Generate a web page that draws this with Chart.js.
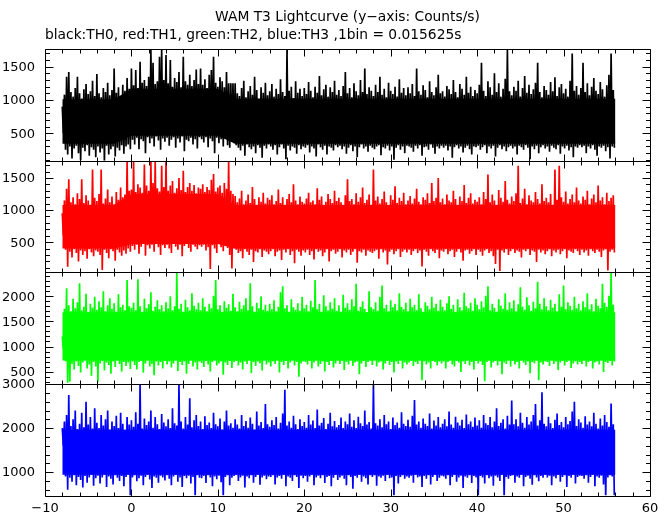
<!DOCTYPE html>
<html>
<head>
<meta charset="utf-8">
<script src="https://cdn.jsdelivr.net/npm/chart.js@4.4.1/dist/chart.umd.min.js"></script>
<style>
  html, body { margin: 0; padding: 0; background: #fff; }
</style>
</head>
<body>
<canvas id="lc" width="672" height="515"></canvas>
<script>
const TITLE = 'WAM T3 Lightcurve (y\u2212axis: Counts/s)';
const SUBTITLE = 'black:TH0, red:TH1, green:TH2, blue:TH3 ,1bin = 0.015625s';
const X_TICKS = [-10, 0, 10, 20, 30, 40, 50, 60];

const T_START = -8;
const T_STEP = 0.25;
// solid middle of each trace, read every 2 s
const CORE_STEP = 2;

// TH0 (black)
const th0Hi = [
  900, 1080, 1350, 1420, 1120, 1050, 1180, 1350, 1100, 1020, 1160, 1240, 1090, 1130, 1290, 1060,
  1390, 1100, 1040, 1180, 1120, 1260, 1070, 1150, 1475, 1110, 1190, 1050, 1230, 1140, 1330, 1170,
  1475, 1220, 1450, 1180, 1575, 1260, 1300, 1210, 1350, 1755, 1560, 1240, 1280, 1650, 1755, 1300,
  1675, 1250, 1600, 1200, 1330, 1270, 1420, 1190, 1650, 1280, 1230, 1380, 1210, 1300, 1460, 1240,
  1475, 1230, 1310, 1180, 1380, 1450, 1650, 1260, 1200, 1340, 1280, 1190, 1420, 1250, 1250, 1250,
  1250, 1100, 1060, 1180, 1290, 1040, 1130, 1210, 1080, 1350, 1150, 1020, 1190, 1110, 1260, 1070,
  1130, 1240, 1050, 1170, 1090, 1310, 1120, 1060, 1755, 1140, 1200, 1030, 1280, 1110, 1170, 1060,
  1180, 1090, 1270, 1140, 1040, 1200, 1110, 1360, 1070, 1160, 1230, 1050, 1190, 1120, 1290, 1080,
  1150, 1060, 1210, 1420, 1100, 1180, 1040, 1250, 1130, 1070, 1300, 1120, 1475, 1090, 1190, 1140,
  1060, 1230, 1120, 1350, 1080, 1170, 1040, 1260, 1140, 1090, 1200, 1050, 1310, 1110, 1180, 1070,
  1190, 1100, 1240, 1060, 1475, 1130, 1080, 1220, 1150, 1040, 1280, 1120, 1070, 1190, 1380, 1100,
  1130, 1050, 1210, 1160, 1090, 1300, 1120, 1040, 1240, 1170, 1080, 1350, 1110, 1200, 1060, 1150,
  1100, 1230, 1560, 1140, 1060, 1280, 1190, 1080, 1400, 1120, 1250, 1050, 1170, 1320, 1755, 1130,
  1070, 1200, 1140, 1290, 1050, 1180, 1360, 1110, 1230, 1090, 1160, 1260, 1560, 1120, 1040, 1210,
  1150, 1080, 1270, 1130, 1340, 1060, 1190, 1240, 1100, 1170, 1050, 1290, 1700, 1140, 1210, 1080,
  1180, 1560, 1120, 1250, 1070, 1200, 1330, 1140, 1090, 1270, 1160, 1050, 1220, 1380, 1700, 1150
];
const th0Lo = [
  500, 250, 180, 300, 120, 270, 310, 200, 90, 280, 230, 320, 160, 290, 250, 140,
  300, 210, 270, 60, 310, 180, 260, 300, 150, 280, 240, 320, 190, 300, 330, 260,
  400, 330, 430, 260, 410, 380, 200, 440, 350, 420, 300, 450, 390, 250, 420, 370,
  430, 310, 400, 440, 280, 420, 360, 450, 230, 400, 380, 430, 330, 410, 270, 440,
  410, 360, 440, 290, 420, 380, 200, 430, 350, 410, 300, 440, 320, 280, 400, 350,
  320, 280, 240, 310, 160, 330, 290, 260, 300, 200, 320, 280, 130, 310, 270, 330,
  300, 250, 320, 180, 290, 330, 270, 110, 310, 240, 300, 280, 190, 320, 260, 300,
  280, 320, 210, 300, 270, 150, 330, 290, 250, 310, 180, 300, 280, 240, 320, 290,
  310, 260, 300, 190, 280, 320, 230, 300, 140, 290, 330, 270, 300, 220, 310, 280,
  260, 300, 320, 170, 290, 270, 310, 240, 300, 100, 280, 320, 250, 300, 200, 310,
  300, 280, 220, 310, 270, 320, 160, 290, 300, 250, 330, 280, 190, 300, 270, 310,
  280, 310, 240, 300, 130, 290, 320, 270, 300, 210, 280, 310, 260, 180, 300, 290,
  310, 250, 290, 320, 200, 300, 270, 310, 150, 280, 320, 260, 300, 230, 290, 310,
  270, 300, 180, 310, 290, 250, 320, 280, 110, 300, 260, 310, 200, 290, 320, 270,
  300, 220, 310, 280, 260, 320, 190, 300, 270, 310, 240, 290, 140, 300, 280, 320,
  290, 310, 200, 300, 270, 320, 250, 160, 300, 280, 310, 230, 290, 120, 300, 280
];
const th0CoreTop = [
  1010, 1010, 1010, 1010, 1170, 1170, 1170, 1170, 1170, 1170, 1020,
  1020, 1020, 1020, 1020, 1020, 1020, 1020, 1020, 1020, 1020, 1020,
  1020, 1020, 1020, 1020, 1020, 1020, 1020, 1020, 1020, 1020, 1020
];
const th0CoreBot = [
  340, 340, 340, 340, 460, 460, 460, 460, 460, 460, 340,
  340, 340, 340, 340, 340, 340, 340, 340, 340, 340, 340,
  340, 340, 340, 340, 340, 340, 340, 340, 340, 340, 340
];

// TH1 (red)
const th1Hi = [
  950, 1150, 1330, 1480, 1120, 1200, 1090, 1260, 1170, 1480, 1110, 1230, 1150, 1080, 1630, 1190,
  1140, 1250, 1630, 1100, 1180, 1320, 1120, 1210, 1090, 1280, 1160, 1350, 1200, 1240, 1755, 1300,
  1320, 1755, 1280, 1400, 1350, 1270, 1710, 1380, 1300, 1755, 1420, 1755, 1340, 1290, 1690, 1360,
  1755, 1300, 1380, 1450, 1270, 1340, 1500, 1310, 1610, 1280, 1360, 1420, 1300, 1390, 1260, 1350,
  1330, 1400, 1280, 1360, 1310, 1470, 1560, 1290, 1350, 1380, 1270, 1420, 1330, 1755, 1300, 1250,
  1220, 1120, 1180, 1300, 1090, 1150, 1240, 1110, 1360, 1170, 1080, 1200, 1130, 1270, 1100, 1190,
  1160, 1230, 1090, 1140, 1320, 1110, 1200, 1080, 1170, 1250, 1120, 1400, 1150, 1090, 1210, 1130,
  1100, 1180, 1270, 1120, 1150, 1090, 1340, 1160, 1210, 1080, 1130, 1250, 1170, 1110, 1300, 1140,
  1190, 1120, 1080, 1230, 1480, 1140, 1170, 1090, 1260, 1130, 1200, 1350, 1110, 1160, 1240, 1080,
  1630, 1150, 1210, 1100, 1170, 1290, 1120, 1080, 1230, 1160, 1370, 1110, 1190, 1140, 1270, 1090,
  1150, 1220, 1100, 1180, 1330, 1130, 1090, 1200, 1160, 1260, 1110, 1420, 1140, 1190, 1500, 1120,
  1180, 1090, 1240, 1150, 1120, 1300, 1170, 1080, 1210, 1140, 1390, 1110, 1190, 1260, 1100, 1160,
  1130, 1200, 1090, 1280, 1170, 1555, 1120, 1240, 1150, 1080, 1310, 1190, 1130, 1450, 1160, 1100,
  1210, 1140, 1260, 1690, 1110, 1180, 1330, 1090, 1230, 1150, 1120, 1280, 1170, 1100, 1400, 1140,
  1190, 1120, 1250, 1080, 1630, 1160, 1690, 1200, 1130, 1290, 1100, 1170, 1240, 1120, 1350, 1150,
  1100, 1210, 1160, 1300, 1090, 1180, 1240, 1120, 1380, 1150, 1200, 1090, 1270, 1140, 1190, 1230
];
const th1Lo = [
  600, 380, 115, 350, 260, 390, 330, 200, 370, 300, 360, 240, 390, 340, 280, 370,
  350, 300, 65, 380, 330, 250, 390, 360, 210, 380, 340, 290, 370, 320, 400, 350,
  440, 380, 460, 320, 430, 470, 290, 450, 400, 460, 350, 470, 420, 300, 450, 410,
  460, 400, 330, 470, 430, 380, 460, 280, 440, 470, 410, 350, 460, 430, 390, 450,
  430, 460, 370, 420, 80, 450, 400, 330, 470, 420, 360, 440, 410, 300, 90, 400,
  380, 330, 360, 250, 390, 350, 300, 380, 190, 360, 340, 390, 270, 370, 350, 310,
  360, 390, 280, 350, 370, 220, 380, 340, 390, 300, 360, 170, 380, 350, 290, 370,
  340, 380, 300, 360, 230, 390, 350, 370, 280, 340, 390, 200, 360, 380, 320, 350,
  390, 260, 370, 340, 380, 300, 350, 390, 180, 360, 340, 380, 290, 370, 350, 330,
  360, 380, 240, 390, 340, 370, 150, 350, 380, 310, 360, 390, 270, 350, 380, 340,
  380, 300, 360, 390, 330, 370, 120, 380, 350, 290, 390, 360, 330, 380, 250, 370,
  350, 390, 310, 360, 380, 270, 350, 390, 340, 210, 370, 380, 320, 360, 390, 300,
  380, 350, 290, 370, 390, 330, 360, 280, 160, 380, 50, 370, 340, 390, 300, 360,
  390, 330, 370, 350, 260, 380, 360, 390, 300, 370, 350, 190, 380, 340, 370, 310,
  360, 390, 280, 370, 340, 380, 310, 360, 390, 250, 370, 350, 330, 390, 360, 300,
  380, 340, 370, 290, 390, 360, 330, 380, 350, 270, 370, 390, 60, 350, 380, 340
];
const th1CoreTop = [
  1080, 1080, 1080, 1080, 1250, 1250, 1250, 1250, 1250, 1250, 1080,
  1080, 1080, 1080, 1080, 1080, 1080, 1080, 1080, 1080, 1080, 1080,
  1080, 1080, 1080, 1080, 1080, 1080, 1080, 1080, 1080, 1080, 1080
];
const th1CoreBot = [
  400, 400, 400, 400, 470, 470, 470, 470, 470, 470, 400,
  400, 400, 400, 400, 400, 400, 400, 400, 400, 400, 400,
  400, 400, 400, 400, 400, 400, 400, 400, 400, 400, 400
];

// TH2 (green)
const th2Hi = [
  1200, 1750, 2160, 1820, 1700, 1950, 1760, 1880, 2260, 1720, 1790, 2050, 1680, 1850, 1770, 1990,
  1730, 1900, 1780, 2100, 1700, 1820, 1960, 1750, 1860, 1690, 2040, 1780, 1830, 1720, 2325, 1800,
  1770, 1870, 1720, 2340, 1800, 1690, 1950, 1760, 1840, 2080, 1710, 1790, 1920, 1740, 1820, 1700,
  1880, 1760, 2000, 1720, 1800, 2478, 1750, 1850, 1690, 1930, 1780, 1720, 2060, 1810, 1740, 1870,
  1720, 1960, 1790, 1700, 1850, 1760, 2010, 2325, 1740, 1820, 1690, 1900, 1770, 1840, 1710, 2050,
  1780, 1700, 1890, 1750, 1820, 1960, 1720, 2260, 1800, 1690, 1870, 1760, 2000, 1730, 1830, 1710,
  1850, 1740, 1920, 1700, 1790, 2080, 2200, 1760, 1820, 1690, 1940, 1780, 1730, 1860, 1710, 1990,
  1760, 1830, 1700, 1910, 1780, 2325, 1740, 1850, 1690, 2020, 1800, 1720, 1880, 1750, 1960, 1710,
  1820, 1690, 2030, 1770, 1860, 1730, 1940, 1800, 2250, 1710, 1790, 1900, 1750, 1680, 2100, 1780,
  1740, 1880, 1710, 1990, 2215, 1760, 1830, 1700, 1920, 1780, 1850, 1720, 2060, 1790, 1740, 1870,
  1700, 1950, 1780, 1830, 1720, 2040, 1760, 1690, 1880, 1810, 1740, 1990, 1770, 1850, 1710, 1930,
  1790, 1720, 1860, 2000, 1750, 1830, 1690, 1940, 1780, 1720, 2070, 1800, 1760, 1870, 1710, 1960,
  1830, 1740, 1900, 1780, 2010, 2200, 1720, 1850, 1770, 1690, 1940, 1810, 1750, 2060, 1730, 1880,
  1760, 1920, 1700, 1840, 2180, 1790, 1730, 1980, 1820, 1710, 1890, 1760, 2290, 1850, 1740, 1960,
  1800, 1720, 1930, 1770, 1850, 1700, 2040, 1790, 2215, 1740, 1880, 1810, 1730, 1990, 1760, 1850,
  1720, 1900, 1780, 2060, 1740, 1840, 1700, 1950, 1810, 1760, 2250, 1870, 1790, 2010, 2478, 1830
];
const th2Lo = [
  950, 700, 280, 300, 650, 540, 700, 610, 480, 680, 720, 560, 640, 420, 690, 600,
  300, 660, 710, 520, 680, 630, 460, 700, 590, 720, 650, 500, 690, 610, 680, 550,
  700, 630, 540, 690, 710, 480, 660, 720, 600, 650, 430, 700, 620, 690, 560, 710,
  640, 700, 580, 660, 720, 510, 690, 630, 700, 460, 650, 720, 600, 680, 540, 700,
  670, 590, 710, 640, 500, 690, 720, 620, 660, 700, 440, 680, 630, 710, 570, 690,
  710, 620, 680, 540, 700, 650, 720, 470, 690, 610, 700, 660, 520, 720, 640, 680,
  600, 700, 650, 720, 480, 690, 630, 710, 560, 680, 720, 620, 690, 400, 660, 700,
  690, 640, 710, 560, 680, 720, 600, 650, 700, 500, 690, 630, 710, 580, 660, 720,
  650, 710, 530, 690, 640, 720, 610, 680, 700, 450, 660, 710, 590, 690, 720, 630,
  720, 600, 680, 700, 540, 660, 710, 630, 690, 480, 700, 650, 720, 560, 680, 640,
  680, 710, 610, 690, 650, 720, 330, 700, 640, 680, 560, 710, 690, 620, 700, 660,
  700, 560, 690, 720, 640, 600, 710, 680, 490, 700, 650, 720, 620, 690, 540, 710,
  660, 700, 630, 310, 690, 720, 580, 680, 710, 620, 700, 450, 680, 650, 720, 600,
  710, 640, 690, 560, 720, 680, 630, 700, 470, 690, 660, 720, 330, 680, 640, 700,
  690, 610, 720, 650, 700, 530, 680, 710, 620, 690, 720, 570, 660, 700, 640, 690,
  650, 720, 600, 690, 710, 560, 680, 700, 640, 720, 490, 690, 670, 710, 620, 700
];
const th2CoreTop = [
  1680, 1680, 1680, 1680, 1680, 1680, 1680, 1680, 1680, 1680, 1680,
  1680, 1680, 1680, 1680, 1680, 1680, 1680, 1680, 1680, 1680, 1680,
  1680, 1680, 1680, 1680, 1680, 1680, 1680, 1680, 1680, 1680, 1680
];
const th2CoreBot = [
  720, 720, 720, 720, 720, 720, 720, 720, 720, 720, 720,
  720, 720, 720, 720, 720, 720, 720, 720, 720, 720, 720,
  720, 720, 720, 720, 720, 720, 720, 720, 720, 720, 720
];

// TH3 (blue)
const th3Hi = [
  2000, 2150, 2300, 2755, 2050, 2200, 2400, 1980, 2100, 2350, 2020, 2600, 2080, 2250, 1990, 2450,
  2120, 2000, 2300, 2060, 2200, 2400, 1970, 2150, 2050, 2280, 2000, 2350, 2100, 1960, 2250, 2080,
  2180, 2030, 2360, 2100, 3000, 1990, 2220, 2070, 2150, 2400, 2010, 2250, 2090, 1980, 2320, 2130,
  2040, 2200, 2000, 2450, 2110, 2060, 3000, 2150, 1990, 2250, 2080, 2680, 2020, 2180, 2300, 2050,
  2150, 1980, 2270, 2070, 2130, 2000, 2350, 2090, 2040, 2220, 1970, 2150, 2400, 2060, 2110, 2010,
  2200, 2080, 1990, 2300, 2050, 2160, 2010, 2240, 2100, 1970, 2380, 2060, 2140, 2000, 2550, 2090,
  2030, 2180, 2070, 2250, 1990, 2120, 2330, 2870, 2060, 2150, 2010, 2280, 2090, 1980, 2200, 2050,
  2140, 2010, 2300, 2080, 2170, 2000, 2420, 2060, 2120, 2230, 1980, 2100, 2350, 2040, 2160, 2020,
  2070, 2240, 2000, 2150, 2090, 2330, 2030, 2180, 2000, 2260, 2110, 2050, 2400, 2080, 2140, 1990,
  3000, 2110, 2060, 2200, 2020, 2300, 2090, 2150, 1980, 2240, 2070, 2130, 2010, 2360, 2100, 2050,
  2190, 2030, 2280, 2640, 2080, 2150, 2010, 2220, 2100, 2050, 2330, 1990, 2170, 2060, 2250, 2020,
  2100, 2200, 2040, 2380, 2080, 2010, 2260, 2130, 2060, 2190, 2000, 2310, 2090, 2150, 2030, 2240,
  2060, 2180, 2010, 2300, 2110, 2070, 2250, 2020, 2150, 2450, 2050, 2120, 2200, 1990, 2280, 2080,
  2630, 2090, 2200, 2040, 2350, 2120, 2010, 2250, 2080, 2150, 2300, 2550, 2060, 2180, 2815, 2100,
  2040, 2260, 2110, 2000, 2190, 2330, 2070, 2140, 2020, 2250, 2090, 2160, 2380, 2600, 2050, 2200,
  2130, 2010, 2270, 2080, 2150, 2040, 2350, 2100, 1990, 2220, 2060, 2300, 2140, 2030, 2560, 2090
];
const th3Lo = [
  1600, 900, 600, 870, 780, 930, 700, 890, 820, 650, 910, 760, 880, 940, 690, 860,
  920, 740, 880, 940, 660, 900, 850, 720, 930, 870, 800, 910, 680, 890, 940, 420,
  880, 930, 790, 860, 920, 700, 890, 940, 830, 640, 900, 870, 760, 920, 880, 810,
  930, 850, 700, 900, 940, 780, 880, 660, 910, 860, 920, 740, 890, 420, 930, 870,
  860, 910, 750, 930, 880, 680, 900, 840, 920, 770, 420, 890, 930, 700, 870, 910,
  940, 800, 880, 920, 650, 900, 860, 930, 760, 890, 940, 710, 880, 920, 840, 900,
  890, 930, 720, 880, 910, 850, 940, 680, 900, 870, 800, 930, 890, 640, 920, 860,
  910, 780, 900, 940, 700, 880, 920, 860, 930, 750, 890, 910, 680, 870, 940, 820,
  880, 920, 850, 700, 930, 890, 620, 910, 870, 940, 780, 900, 860, 720, 930, 890,
  930, 690, 900, 870, 920, 800, 940, 860, 880, 420, 910, 740, 890, 930, 850, 900,
  870, 920, 760, 940, 880, 900, 660, 910, 850, 930, 720, 890, 940, 800, 870, 920,
  900, 850, 930, 700, 890, 940, 780, 880, 920, 640, 900, 870, 930, 750, 910, 880,
  420, 910, 880, 740, 930, 860, 900, 690, 920, 880, 800, 940, 420, 890, 850, 910,
  930, 760, 900, 870, 940, 680, 890, 920, 850, 710, 930, 880, 790, 910, 870, 940,
  880, 920, 700, 900, 860, 940, 780, 890, 930, 660, 910, 870, 940, 740, 890, 920,
  910, 850, 930, 760, 890, 940, 680, 900, 870, 920, 720, 420, 880, 930, 900, 420
];
const th3CoreTop = [
  1960, 1960, 1960, 1960, 1960, 1960, 1960, 1960, 1960, 1960, 1960,
  1960, 1960, 1960, 1960, 1960, 1960, 1960, 1960, 1960, 1960, 1960,
  1960, 1960, 1960, 1960, 1960, 1960, 1960, 1960, 1960, 1960, 1960
];
const th3CoreBot = [
  940, 940, 940, 940, 940, 940, 940, 940, 940, 940, 940,
  940, 940, 940, 940, 940, 940, 940, 940, 940, 940, 940,
  940, 940, 940, 940, 940, 940, 940, 940, 940, 940, 940
];

// axis ranges per panel, top to bottom
const Y_MIN = [86, 30, 255, 468];
const Y_MAX = [1765, 1768, 2478, 3005];
const Y_MAJOR = [500, 500, 500, 1000];
const Y_MINOR = [100, 100, 100, 200];
const COLORS = ['#000000', '#ff0000', '#00ff00', '#0000ff'];

const series = [
  [th0Hi, th0Lo, th0CoreTop, th0CoreBot],
  [th1Hi, th1Lo, th1CoreTop, th1CoreBot],
  [th2Hi, th2Lo, th2CoreTop, th2CoreBot],
  [th3Hi, th3Lo, th3CoreTop, th3CoreBot]
];

const FONT = { family: 'DejaVu Sans', size: 13, weight: 'normal' };
const TITLE_FONT = { family: 'DejaVu Sans', size: 13.8, weight: 'normal' };

// each bin goes up to its peak then down to its dip, like the binned trace
function trace(hi, lo) {
  const pts = [];
  hi.forEach((v, i) => {
    const t = T_START + i * T_STEP;
    pts.push({ x: t, y: v }, { x: t + T_STEP / 2, y: lo[i] });
  });
  return pts;
}

function band(vals) {
  return vals.map((v, i) => ({ x: T_START + i * CORE_STEP, y: v }));
}

const datasets = [];
series.forEach(([hi, lo, top, bot], p) => {
  const yAxisID = 'y' + p;
  datasets.push({
    data: band(top), yAxisID, borderWidth: 0, pointRadius: 0,
    backgroundColor: COLORS[p], fill: '+1'
  });
  datasets.push({ data: band(bot), yAxisID, borderWidth: 0, pointRadius: 0, fill: false });
  datasets.push({
    data: trace(hi, lo), yAxisID, borderColor: COLORS[p], borderWidth: 1.7,
    pointRadius: 0, fill: false
  });
});

const scales = {
  x: {
    type: 'linear', position: 'bottom', min: -10, max: 60,
    grid: { display: false, drawTicks: false }, border: { display: false },
    ticks: {
      color: '#000', font: FONT, padding: 5, maxRotation: 0,
      callback: v => (v < 0 ? '\u2212' + Math.abs(v) : String(v))
    },
    afterBuildTicks: s => { s.ticks = X_TICKS.map(v => ({ value: v })); },
    afterFit: s => { s.height = 19.5; }
  }
};
Y_MIN.forEach((mn, p) => {
  scales['y' + p] = {
    type: 'linear', position: 'left', stack: 'lc', stackWeight: 1, weight: 10 - p,
    min: mn, max: Y_MAX[p], offset: false,
    grid: { display: false, drawTicks: false }, border: { display: false },
    ticks: { display: false },
    afterFit: s => { s.width = 45; }
  };
});

// clip each series to its own panel
const panelClip = {
  id: 'panelClip',
  beforeDatasetDraw(chart, args) {
    const s = chart.scales[args.meta.yAxisID];
    const a = chart.chartArea;
    chart.ctx.save();
    chart.ctx.beginPath();
    chart.ctx.rect(a.left, s.top, a.right - a.left, s.bottom - s.top);
    chart.ctx.clip();
  },
  afterDatasetDraw(chart) {
    chart.ctx.restore();
  }
};

// frames with inward ticks on all four sides, plus the y labels
const panelFrames = {
  id: 'panelFrames',
  afterDatasetsDraw(chart) {
    const ctx = chart.ctx;
    const a = chart.chartArea;
    const xs = chart.scales.x;
    const left = Math.round(a.left) + 0.5;
    const right = Math.round(a.right) + 0.5;
    ctx.save();
    ctx.strokeStyle = '#000';
    ctx.fillStyle = '#000';
    ctx.lineWidth = 1;
    Y_MIN.forEach((mn, p) => {
      const s = chart.scales['y' + p];
      const top = Math.round(s.top) + 0.5;
      const bot = Math.round(s.bottom) + 0.5;
      ctx.beginPath();
      ctx.rect(left, top, right - left, bot - top);
      for (let v = -10; v <= 60; v += 2) {
        const px = Math.round(xs.getPixelForValue(v)) + 0.5;
        const len = v % 10 === 0 ? 7 : 4;
        ctx.moveTo(px, top); ctx.lineTo(px, top + len);
        ctx.moveTo(px, bot); ctx.lineTo(px, bot - len);
      }
      const step = Y_MINOR[p];
      for (let v = Math.ceil(mn / step) * step; v <= Y_MAX[p]; v += step) {
        const py = Math.round(s.getPixelForValue(v)) + 0.5;
        const len = v % Y_MAJOR[p] === 0 ? 8 : 4.5;
        ctx.moveTo(left, py); ctx.lineTo(left + len, py);
        ctx.moveTo(right, py); ctx.lineTo(right - len, py);
      }
      ctx.stroke();
    });
    ctx.font = FONT.size + 'px "' + FONT.family + '"';
    ctx.textAlign = 'right';
    ctx.textBaseline = 'middle';
    Y_MIN.forEach((mn, p) => {
      const s = chart.scales['y' + p];
      const major = Y_MAJOR[p];
      for (let v = Math.ceil(mn / major) * major; v <= Y_MAX[p]; v += major) {
        ctx.fillText(String(v), a.left - 10, s.getPixelForValue(v) + 1);
      }
    });
    ctx.restore();
  }
};

new Chart(document.getElementById('lc'), {
  type: 'line',
  data: { datasets },
  plugins: [panelClip, panelFrames],
  options: {
    responsive: false,
    animation: false,
    events: [],
    layout: { padding: { left: 0, right: 22, top: 0, bottom: 0 } },
    elements: { line: { tension: 0 } },
    scales,
    plugins: {
      legend: { display: false },
      tooltip: { enabled: false },
      title: {
        display: true, text: TITLE, fullSize: false, align: 'center', color: '#000',
        font: TITLE_FONT, padding: { top: 9, bottom: 2 }
      },
      subtitle: {
        display: true, text: SUBTITLE, fullSize: false, align: 'start', color: '#000',
        font: TITLE_FONT, padding: { top: 0, bottom: 5 }
      }
    }
  }
});
</script>
</body>
</html>
